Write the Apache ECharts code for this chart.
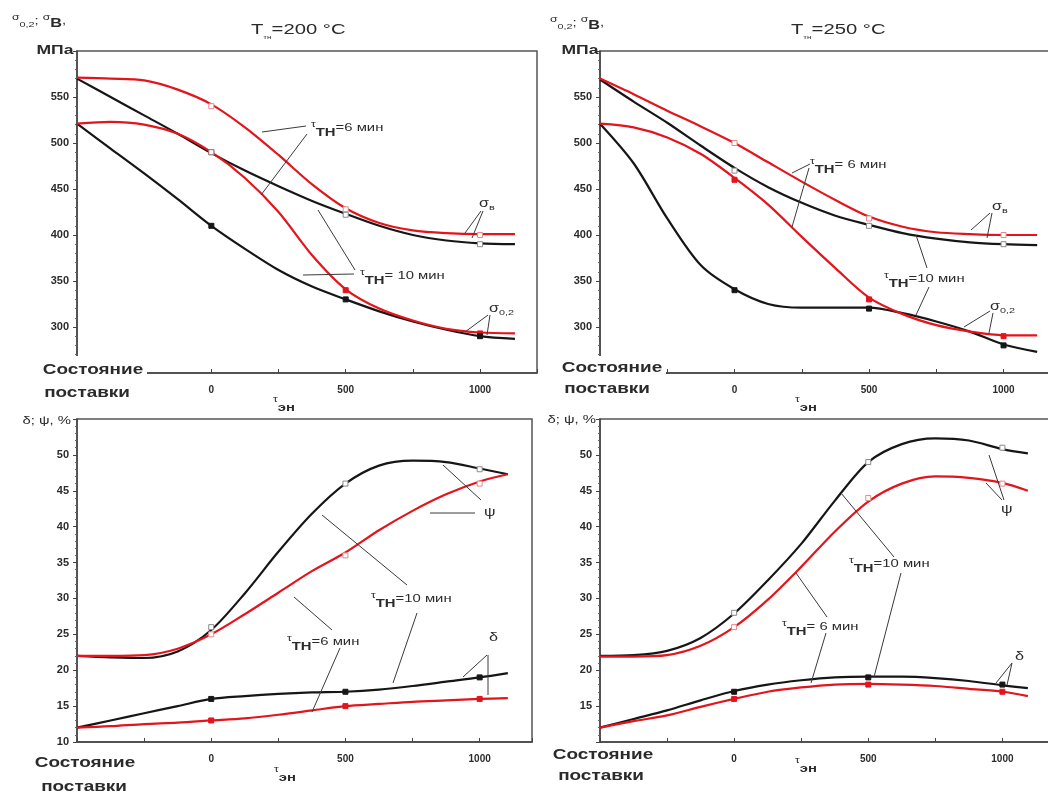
<!DOCTYPE html>
<html>
<head>
<meta charset="utf-8">
<script src="https://cdn.jsdelivr.net/npm/echarts@6/dist/echarts.min.js"></script>
<style>
  html, body { margin: 0; background: #fff; }
  #chart { width: 1048px; height: 792px; }
</style>
</head>
<body>
<div id="chart"></div>
<script>
// ---- data ----
// x = τэн; -500 stands for "Состояние поставки"
const xTop200 = [-500, -375, -250, -125, 0, 125, 250, 375, 500, 625, 750, 875, 1000, 1130];
const xTop250 = [-500, -375, -250, -125, 0, 125, 250, 375, 500, 625, 750, 875, 1000, 1125];
const xBot200 = [-500, -375, -250, -125, 0, 125, 250, 375, 500, 625, 750, 875, 1000, 1105];
const xBot250 = [-500, -375, -250, -125, 0, 125, 250, 375, 500, 625, 750, 875, 1000, 1095];
const xMarks = [0, 500, 1000];

// Tтн = 200 °C, MPa
const sigB200_6 = [571, 570, 568, 558, 542, 517, 487, 455, 429, 413, 405, 402, 401, 401];
const sigB200_10 = [570, 550, 530, 510, 489, 470, 453, 437, 423, 410, 400, 394, 391, 390];
const sig02_200_6 = [521, 523, 520, 510, 490, 462, 425, 378, 341, 320, 307, 298, 294, 293];
const sig02_200_10 = [521, 494, 467, 439, 410, 385, 362, 344, 330, 317, 306, 297, 290, 287];
const mSigB200_6 = [540, 428, 400];
const mSigB200_10 = [490, 422, 390];
const mSig02_200_6 = [490, 340, 293];
const mSig02_200_10 = [410, 330, 290];

// Tтн = 250 °C, MPa
const sigB250_6 = [570, 553, 535, 518, 500, 479, 458, 438, 420, 409, 403, 401, 400, 400];
const sigB250_10 = [569, 545, 522, 497, 473, 452, 435, 421, 411, 402, 396, 392, 390, 389];
const sig02_250_6 = [521, 517, 506, 488, 462, 433, 398, 364, 332, 314, 302, 295, 291, 291];
const sig02_250_10 = [521, 478, 418, 367, 341, 325, 321, 321, 321, 315, 306, 295, 281, 273];
const mSigB250_6 = [500, 418, 400];
const mSigB250_10 = [470, 410, 390];
const mSig02_250_6 = [460, 330, 290];
const mSig02_250_10 = [340, 320, 280];

// Tтн = 200 °C, %
const psi200_10 = [22, 21.8, 21.7, 22.6, 25.6, 30.7, 36.5, 41.8, 46, 48.5, 49.2, 49, 48.1, 47.3];
const psi200_6 = [22, 22, 22.1, 23, 25, 27.8, 30.8, 33.8, 36.4, 39.5, 42.2, 44.5, 46.3, 47.3];
const del200_10 = [12, 13, 14, 15, 16, 16.4, 16.7, 16.9, 17, 17.3, 17.8, 18.4, 19, 19.6];
const del200_6 = [12, 12.2, 12.5, 12.7, 13, 13.3, 13.8, 14.4, 15, 15.3, 15.6, 15.8, 16, 16.1];
const mPsi200_10 = [26, 46, 48];
const mPsi200_6 = [25, 36, 46];
const mDel200_10 = [16, 17, 19];
const mDel200_6 = [13, 15, 16];

// Tтн = 250 °C, %
const psi250_10 = [22, 22.1, 22.7, 24.5, 27.9, 32.5, 37.6, 43.6, 49, 51.5, 52.3, 52, 50.8, 50.2];
const psi250_6 = [21.9, 21.9, 22.1, 23.4, 26, 29.8, 34.4, 39.3, 43.5, 46, 47, 46.8, 46.1, 45];
const del250_10 = [12, 13.2, 14.4, 15.8, 17.1, 18, 18.6, 19, 19.1, 19.1, 18.9, 18.5, 17.9, 17.5];
const del250_6 = [12, 12.9, 13.7, 14.9, 16, 17, 17.6, 18, 18.1, 18, 17.8, 17.4, 17, 16.4];
const mPsi250_10 = [28, 49, 51];
const mPsi250_6 = [26, 44, 46];
const mDel250_10 = [17, 19, 18];
const mDel250_6 = [16, 18, 17];

// tick labels
const xTickLabels = ['0', '500', '1000'];
const yTicksTop = [300, 350, 400, 450, 500, 550];
const yTicksBot = [10, 15, 20, 25, 30, 35, 40, 45, 50];
const yTicksBot250 = [15, 20, 25, 30, 35, 40, 45, 50];
const stateLabel = ['Состояние', 'поставки'];

// ---- styles ----
const FF = '"Liberation Sans", Arial, sans-serif';
const INK = '#2b2b2b';
const RED = '#e3141c';
const BLK = '#161616';
const SX = 1.35; // the scan is stretched sideways

function curve(g, xs, ys, color) {
  return {
    type: 'line', xAxisIndex: g, yAxisIndex: g,
    data: xs.map((x, i) => [x, ys[i]]),
    smooth: 0.3, showSymbol: false, symbol: 'none',
    lineStyle: { color: color, width: 2.2 }, silent: true, z: 2
  };
}
function marks(g, ys, fill, stroke) {
  return {
    type: 'scatter', xAxisIndex: g, yAxisIndex: g,
    data: xMarks.map((x, i) => [x, ys[i]]),
    symbol: 'rect', symbolSize: 5,
    itemStyle: { color: fill, borderColor: stroke, borderWidth: 1, opacity: 1 },
    silent: true, z: 3
  };
}

function xAx(g, max) {
  return {
    gridIndex: g, type: 'value', min: -500, max: max, interval: 250,
    axisLine: { onZero: false, lineStyle: { color: '#444', width: 1.5 } },
    axisTick: { inside: true, length: 4, lineStyle: { color: '#444' } },
    splitLine: { show: false },
    axisLabel: {
      margin: 12, fontSize: 10, fontWeight: 'bold', fontFamily: FF, color: INK,
      formatter: v => { const i = xMarks.indexOf(v); return i >= 0 ? xTickLabels[i] : ''; }
    }
  };
}
function yAx(g, min, max, interval, shown) {
  return {
    gridIndex: g, type: 'value', min: min, max: max, interval: interval,
    axisLine: { show: true, onZero: false, lineStyle: { color: '#444', width: 1.5 } },
    axisTick: { show: true, inside: false, length: 4, lineStyle: { color: '#444' } },
    minorTick: { show: true, splitNumber: 5, length: 2, lineStyle: { color: '#666' } },
    splitLine: { show: false },
    axisLabel: {
      margin: 8, fontSize: 11, fontWeight: 'bold', fontFamily: FF, color: INK,
      formatter: v => shown.indexOf(v) >= 0 ? String(v) : ''
    }
  };
}

// rich text pieces
const R = {
  n: { fontSize: 11, fontFamily: FF, fill: INK },
  m: { fontSize: 12, fontFamily: FF, fill: INK },
  sup: { fontSize: 9, fontFamily: FF, fill: INK, padding: [0, 0, 7, 0] },
  sub: { fontSize: 8, fontFamily: FF, fill: INK, padding: [8, 0, 0, 0] },
  subb: { fontSize: 11, fontWeight: 'bold', fontFamily: FF, fill: INK, padding: [9, 0, 0, 0] },
  bb: { fontSize: 12, fontWeight: 'bold', fontFamily: FF, fill: INK, padding: [5, 0, 0, 0] },
  t: { fontSize: 15, fontFamily: FF, fill: INK },
  tsub: { fontSize: 6, fontFamily: FF, fill: INK, padding: [14, 0, 0, 0] }
};

function rt(x, y, text, align) {
  align = align || 'left';
  return {
    type: 'text', x: x, y: y, scaleX: SX, z: 100, silent: true,
    style: {
      text: text, rich: R, fill: INK, fontSize: 11, fontFamily: FF,
      align: align, verticalAlign: 'middle', textAlign: align, textVerticalAlign: 'middle'
    }
  };
}
function bt(x, y, text, size) {
  return {
    type: 'text', x: x, y: y, scaleX: SX, z: 100, silent: true,
    style: {
      text: text, fill: INK, font: 'bold ' + size + 'px ' + FF,
      align: 'center', verticalAlign: 'middle', textAlign: 'center', textVerticalAlign: 'middle'
    }
  };
}
function ln(x1, y1, x2, y2) {
  return {
    type: 'line', z: 100, silent: true,
    shape: { x1: x1, y1: y1, x2: x2, y2: y2 },
    style: { stroke: '#3a3a3a', lineWidth: 1 }
  };
}
function gap(x, y, w, h) {
  return { type: 'rect', z: 99, silent: true, shape: { x: x, y: y, width: w, height: h }, style: { fill: '#fff' } };
}
const tau = m => '{sup|τ}{subb|TH}{n|=' + m + ' мин}';
const tauEn = '{sup|τ}{subb|эн}';
const yNameTop = '{sup|σ}{sub|0,2}{n|; }{sup|σ}{bb|B}{n|,}';
const yNameBot = '{n|δ; ψ, %}';

const graphics = [
  // corner gaps of the upper frames
  gap(34, 356, 113, 24), gap(557, 356, 109, 24),

  // ---- upper left ----
  rt(251, 30, '{t|T}{tsub|тн}{t|=200 °C}'),
  rt(12, 21, yNameTop), bt(55, 50, 'МПа', 13),
  bt(93, 370, stateLabel[0], 14), bt(87, 393, stateLabel[1], 14),
  rt(273, 403, tauEn),
  rt(311, 128, tau('6')), ln(262, 132, 306, 126), ln(261, 195, 307, 134),
  rt(360, 276, tau(' 10')), ln(303, 275, 354, 274), ln(318, 210, 355, 270),
  rt(479, 204, '{m|σ}{sub|в}'), ln(465, 233, 481, 211), ln(472, 238, 483, 211),
  rt(489, 309, '{m|σ}{sub|0,2}'), ln(465, 332, 488, 315), ln(487, 335, 490, 315),

  // ---- upper right ----
  rt(791, 30, '{t|T}{tsub|тн}{t|=250 °C}'),
  rt(550, 23, yNameTop), bt(580, 50, 'МПа', 13),
  bt(612, 368, stateLabel[0], 14), bt(607, 389, stateLabel[1], 14),
  rt(795, 403, tauEn),
  rt(810, 165, tau(' 6')), ln(792, 173, 810, 164), ln(792, 227, 809, 168),
  rt(884, 279, tau('10')), ln(916, 235, 927, 268), ln(916, 315, 929, 287),
  rt(992, 207, '{m|σ}{sub|в}'), ln(971, 230, 990, 213), ln(987, 238, 992, 213),
  rt(990, 307, '{m|σ}{sub|0,2}'), ln(964, 327, 990, 311), ln(989, 333, 993, 313),

  // ---- lower left ----
  rt(71, 421, yNameBot, 'right'),
  bt(85, 763, stateLabel[0], 14), bt(84, 787, stateLabel[1], 14),
  rt(274, 773, tauEn),
  rt(484, 513, '{m|ψ}'), ln(430, 513, 475, 513), ln(443, 465, 481, 500),
  rt(371, 599, tau('10')), ln(322, 515, 407, 585), ln(393, 683, 417, 613),
  rt(287, 642, tau('6')), ln(294, 597, 332, 630), ln(312, 712, 340, 648),
  rt(489, 638, '{m|δ}'), ln(463, 677, 487, 655), ln(488, 695, 488, 655),

  // ---- lower right ----
  rt(596, 420, yNameBot, 'right'),
  bt(603, 755, stateLabel[0], 14), bt(601, 776, stateLabel[1], 14),
  rt(795, 764, tauEn),
  rt(1001, 510, '{m|ψ}'), ln(989, 455, 1004, 500), ln(986, 483, 1002, 500),
  rt(849, 564, tau('10')), ln(841, 493, 894, 557), ln(874, 677, 901, 573),
  rt(782, 627, tau(' 6')), ln(796, 573, 827, 617), ln(811, 683, 826, 633),
  rt(1015, 657, '{m|δ}'), ln(996, 683, 1012, 663), ln(1007, 685, 1012, 663)
];

const HOLLOW_K = '#8a8a8a';
const HOLLOW_R = '#e58a8a';

const gridBase = { show: true, borderColor: '#555', borderWidth: 1.5, outerBoundsMode: 'none', containLabel: false };

const option = {
  animation: false,
  backgroundColor: '#fff',
  grid: [
    Object.assign({ left: 77, top: 51, width: 460, height: 322 }, gridBase),
    Object.assign({ left: 600, top: 51, width: 470, height: 322 }, gridBase),
    Object.assign({ left: 77, top: 419, width: 455, height: 323 }, gridBase),
    Object.assign({ left: 600, top: 419, width: 470, height: 323 }, gridBase)
  ],
  xAxis: [xAx(0, 1212), xAx(1, 1247), xAx(2, 1195), xAx(3, 1252)],
  yAxis: [
    yAx(0, 250, 600, 50, yTicksTop),
    yAx(1, 250, 600, 50, yTicksTop),
    yAx(2, 10, 55, 5, yTicksBot),
    yAx(3, 10, 55, 5, yTicksBot250)
  ],
  series: [
    curve(0, xTop200, sigB200_10, BLK), curve(0, xTop200, sig02_200_10, BLK),
    curve(0, xTop200, sigB200_6, RED), curve(0, xTop200, sig02_200_6, RED),
    marks(0, mSig02_200_6, RED, RED), marks(0, mSig02_200_10, BLK, BLK),
    marks(0, mSigB200_6, '#fff', HOLLOW_R), marks(0, mSigB200_10, '#fff', HOLLOW_K),

    curve(1, xTop250, sigB250_10, BLK), curve(1, xTop250, sig02_250_10, BLK),
    curve(1, xTop250, sigB250_6, RED), curve(1, xTop250, sig02_250_6, RED),
    marks(1, mSig02_250_6, RED, RED), marks(1, mSig02_250_10, BLK, BLK),
    marks(1, mSigB250_6, '#fff', HOLLOW_R), marks(1, mSigB250_10, '#fff', HOLLOW_K),

    curve(2, xBot200, psi200_10, BLK), curve(2, xBot200, del200_10, BLK),
    curve(2, xBot200, psi200_6, RED), curve(2, xBot200, del200_6, RED),
    marks(2, mDel200_6, RED, RED), marks(2, mDel200_10, BLK, BLK),
    marks(2, mPsi200_6, '#fff', HOLLOW_R), marks(2, mPsi200_10, '#fff', HOLLOW_K),

    curve(3, xBot250, psi250_10, BLK), curve(3, xBot250, del250_10, BLK),
    curve(3, xBot250, psi250_6, RED), curve(3, xBot250, del250_6, RED),
    marks(3, mDel250_6, RED, RED), marks(3, mDel250_10, BLK, BLK),
    marks(3, mPsi250_6, '#fff', HOLLOW_R), marks(3, mPsi250_10, '#fff', HOLLOW_K)
  ],
  graphic: graphics
};

const myChart = echarts.init(document.getElementById('chart'), null, { renderer: 'canvas' });
myChart.setOption(option, true);
</script>
</body>
</html>
